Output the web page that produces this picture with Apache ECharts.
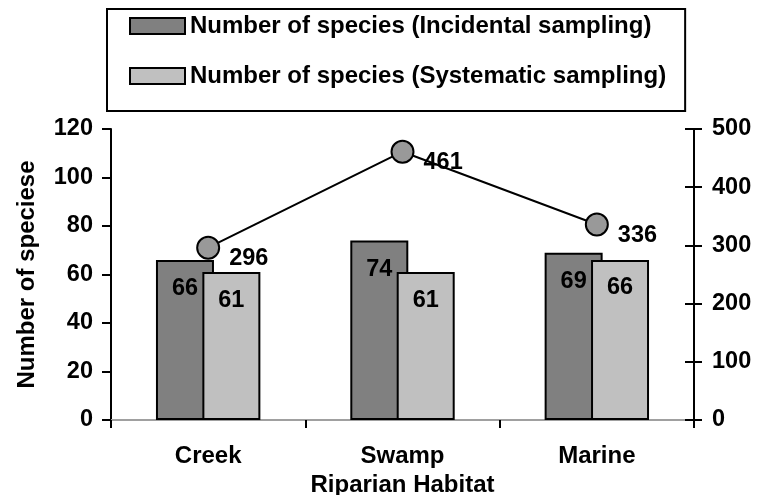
<!DOCTYPE html>
<html>
<head>
<meta charset="utf-8">
<script src="https://cdn.jsdelivr.net/npm/echarts@6/dist/echarts.min.js"></script>
<style>
  html, body { margin: 0; padding: 0; background: #fff; }
  #chart { width: 757px; height: 495px; }
</style>
</head>
<body>
<div id="chart"></div>
<script>
// Riparian habitats and species counts
const habitats = ['Creek', 'Swamp', 'Marine'];
const incidental = [66, 74, 69];
const systematic = [61, 61, 66];
const totalLine = [296, 461, 336];
const leftTicks = { min: 0, max: 120, interval: 20 };
const rightTicks = { min: 0, max: 500, interval: 100 };

const FONT = "'Liberation Sans', Arial, sans-serif";
const txt = (size) => ({ fontFamily: FONT, fontWeight: 'bold', fontSize: size, color: '#000' });

const chart = echarts.init(document.getElementById('chart'), null, { renderer: 'canvas' });

chart.setOption({
  backgroundColor: '#fff',
  animation: false,
  grid: { left: 111, right: 63, top: 129, bottom: 75, containLabel: false, outerBoundsMode: 'none' },
  legend: {
    orient: 'vertical',
    left: 107,
    top: 9,
    data: ['Number of species (Incidental sampling)', 'Number of species (Systematic sampling)'],
    icon: 'rect',
    itemWidth: 55,
    itemHeight: 16,
    itemGap: 26,
    padding: [5, 19, 23, 22],
    borderColor: '#000',
    borderWidth: 2,
    itemStyle: { borderColor: '#000', borderWidth: 2 },
    textStyle: Object.assign(txt(24), { lineHeight: 24 })
  },
  xAxis: [
    {
      type: 'category',
      data: habitats,
      position: 'bottom',
      name: 'Riparian Habitat',
      nameLocation: 'middle',
      nameGap: 48,
      nameTextStyle: txt(24),
      axisLine: { lineStyle: { color: '#000', width: 2 } },
      axisTick: { show: true, length: 8, lineStyle: { color: '#000', width: 2 } },
      axisLabel: Object.assign(txt(24), { margin: 24 })
    },
    {
      type: 'category',
      data: habitats,
      position: 'top',
      axisLine: { show: true, lineStyle: { color: '#a0a0a0', width: 2 } },
      axisTick: { show: false },
      axisLabel: { show: false }
    }
  ],
  yAxis: [
    {
      type: 'value',
      position: 'left',
      min: leftTicks.min, max: leftTicks.max, interval: leftTicks.interval,
      name: 'Number of speciese',
      nameLocation: 'middle',
      nameGap: 72,
      nameTextStyle: txt(24),
      axisLine: { show: true, lineStyle: { color: '#000', width: 2 } },
      axisTick: { show: true, length: 9, lineStyle: { color: '#000', width: 2 } },
      axisLabel: Object.assign(txt(23.5), { margin: 18 }),
      splitLine: { show: false }
    },
    {
      type: 'value',
      position: 'right',
      min: rightTicks.min, max: rightTicks.max, interval: rightTicks.interval,
      axisLine: { show: true, lineStyle: { color: '#000', width: 2 } },
      axisTick: { show: true, inside: true, length: 9, lineStyle: { color: '#000', width: 2 } },
      axisLabel: Object.assign(txt(23.5), { margin: 18 }),
      splitLine: { show: false }
    },
    {
      // outer half of the crossing ticks on the right axis
      type: 'value',
      position: 'right',
      min: rightTicks.min, max: rightTicks.max, interval: rightTicks.interval,
      axisLine: { show: false },
      axisTick: { show: true, length: 8, lineStyle: { color: '#000', width: 2 } },
      axisLabel: { show: false },
      splitLine: { show: false }
    }
  ],
  series: [
    {
      name: 'Number of species (Incidental sampling)',
      type: 'bar',
      data: incidental,
      barWidth: 58,
      barGap: '-20%',
      itemStyle: { color: '#808080', borderColor: '#000', borderWidth: 2 },
      label: Object.assign(txt(23.5), { show: true, position: 'insideTop', distance: 17 })
    },
    {
      name: 'Number of species (Systematic sampling)',
      type: 'bar',
      data: systematic,
      barWidth: 58,
      barGap: '-20%',
      itemStyle: { color: '#c0c0c0', borderColor: '#000', borderWidth: 2 },
      label: Object.assign(txt(23.5), { show: true, position: 'insideTop', distance: 16 })
    },
    {
      name: 'Total',
      type: 'line',
      yAxisIndex: 1,
      data: totalLine,
      symbol: 'circle',
      symbolSize: 22,
      lineStyle: { color: '#000', width: 2 },
      itemStyle: { color: '#999999', borderColor: '#000', borderWidth: 2 },
      label: Object.assign(txt(23.5), { show: true, position: 'right', distance: 9, offset: [0, 11] }),
      z: 5
    }
  ]
});
</script>
</body>
</html>
